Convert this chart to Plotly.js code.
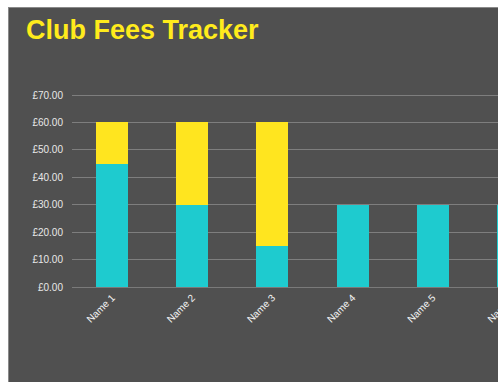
<!DOCTYPE html>
<html>
<head>
<meta charset="utf-8">
<script src="https://cdn.plot.ly/plotly-3.0.1.min.js"></script>
<style>
html,body{margin:0;padding:0;background:#ffffff;overflow:hidden;width:498px;height:382px;}
#wrap{position:absolute;left:8px;top:7px;border-left:1px solid #8a8a8a;border-top:1px solid #8a8a8a;}
#chart{width:620px;height:400px;}
</style>
</head>
<body>
<div id="wrap"><div id="chart"></div></div>
<script>
const names = ["Name 1", "Name 2", "Name 3", "Name 4", "Name 5", "Name 6"];
const paid = [45, 30, 15, 30, 30, 30];
const owed = [15, 30, 45, 0, 0, 0];
const yTicks = [0, 10, 20, 30, 40, 50, 60, 70];
const yTickText = yTicks.map(v => '\u00A3' + v.toFixed(2));

const figW = 620, figH = 400;
const mLeft = 63, plotW = 481, mTop = 86, plotH = 193;

const traces = [
  {type: 'bar', name: 'Paid', x: names, y: paid,
   marker: {color: '#1ECBCF', line: {width: 0}}},
  {type: 'bar', name: 'Owed', x: names, y: owed,
   marker: {color: '#FFE51F', line: {width: 0}}}
];

const layout = {
  width: figW, height: figH,
  barmode: 'stack', bargap: 0.6,
  showlegend: false,
  paper_bgcolor: '#505050', plot_bgcolor: '#505050',
  margin: {l: mLeft, t: mTop, r: figW - mLeft - plotW, b: figH - mTop - plotH, pad: 0},
  title: {text: '<b>Club Fees Tracker</b>', xref: 'container', x: 17 / figW, xanchor: 'left',
          yref: 'container', y: 1 - 12 / figH, yanchor: 'top',
          font: {family: 'Liberation Sans, Arial, sans-serif', size: 27, color: '#FFEB1C'}},
  xaxis: {type: 'category', showgrid: false, tickangle: -45, ticks: '',
          showline: true, linecolor: '#7a7a7a', linewidth: 1,
          tickfont: {family: 'Liberation Sans, Arial, sans-serif', size: 10, color: '#f2f2f2'},
          range: [-0.5, names.length - 0.5]},
  yaxis: {range: [0, 70.37], tickvals: yTicks, ticktext: yTickText,
          showgrid: true, gridcolor: '#7e7e7e', gridwidth: 1, zeroline: false,
          ticks: '', ticklabelstandoff: 8,
          tickfont: {family: 'Liberation Sans, Arial, sans-serif', size: 10, color: '#e8e8e8'}}
};

Plotly.newPlot('chart', traces, layout, {displayModeBar: false, staticPlot: true});
</script>
</body>
</html>
